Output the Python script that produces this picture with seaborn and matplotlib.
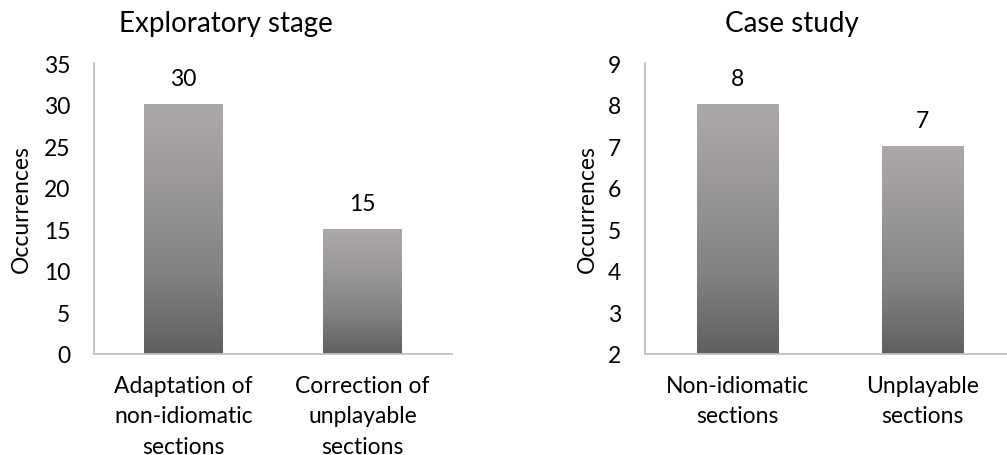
import numpy as np
import pandas as pd
import matplotlib
matplotlib.use("Agg")
import matplotlib.pyplot as plt
from matplotlib.colors import LinearSegmentedColormap
import seaborn as sns

# Chart data
explore_categories = ["Adaptation of\nnon-idiomatic\nsections", "Correction of\nunplayable\nsections"]
explore_counts = [30, 15]
case_categories = ["Non-idiomatic\nsections", "Unplayable\nsections"]
case_counts = [8, 7]

explore_ticks = [0, 5, 10, 15, 20, 25, 30, 35]
case_ticks = [2, 3, 4, 5, 6, 7, 8, 9]

sns.set_theme(style="white")
plt.rcParams["font.family"] = ["Lato", "DejaVu Sans"]

TEXT = "#000000"
SPINE = "#BFBFBF"
FS = 16.5
bar_cmap = LinearSegmentedColormap.from_list(
    "bar_grad", ["#ADA9A8", "#9A9797", "#858282", "#615E5F"])

fig = plt.figure(figsize=(10.07, 4.56), dpi=100)
ax_l = fig.add_axes([0.0933, 0.2215, 0.3555, 0.638])
ax_r = fig.add_axes([0.6405, 0.2215, 0.3674, 0.638])


def gradient_bars(ax):
    lo = ax.get_ylim()[0]
    grad = np.linspace(0, 1, 256).reshape(-1, 1)
    for p in list(ax.patches):
        x0 = p.get_x()
        w = p.get_width()
        top = p.get_y() + p.get_height()
        bottom = max(p.get_y(), lo)
        ax.imshow(grad, cmap=bar_cmap, aspect="auto", origin="upper",
                  extent=(x0, x0 + w, bottom, top), zorder=2,
                  interpolation="bilinear")
        p.set_facecolor("none")
        p.set_edgecolor("none")


def style_panel(ax, cats, counts, ticks, title, title_x, label_x):
    df = pd.DataFrame({"cat": cats, "n": counts})
    sns.barplot(data=df, x="cat", y="n", ax=ax, color="#9A9797",
                width=0.44, saturation=1)
    ax.set_xlim(-0.5, 1.5)
    ax.set_ylim(ticks[0], ticks[-1])
    ax.set_yticks(ticks)
    ax.set_yticklabels([str(t) for t in ticks], fontsize=FS, color=TEXT)
    ax.tick_params(axis="y", length=0, pad=17)
    ax.tick_params(axis="x", length=0, pad=15, labelsize=FS, labelcolor=TEXT)
    for lab in ax.get_xticklabels():
        lab.set_linespacing(1.55)
    ax.set_xlabel("")
    ax.set_ylabel("Occurrences", fontsize=FS, color=TEXT)
    ax.yaxis.set_label_coords(label_x, 0.5)
    for side in ["top", "right"]:
        ax.spines[side].set_visible(False)
    for side in ["left", "bottom"]:
        ax.spines[side].set_color(SPINE)
        ax.spines[side].set_linewidth(1.3)
    ax.bar_label(ax.containers[0], labels=[str(v) for v in counts],
                 padding=11, fontsize=FS, color=TEXT)
    gradient_bars(ax)
    ax.set_xlim(-0.5, 1.5)
    ax.set_ylim(ticks[0], ticks[-1])
    fig.text(title_x, 1 - 24 / 456, title, ha="center", va="center",
             fontsize=20, color=TEXT)


style_panel(ax_l, explore_categories, explore_counts, explore_ticks,
            "Exploratory stage", 226 / 1007, -0.173)
style_panel(ax_r, case_categories, case_counts, case_ticks,
            "Case study", 792 / 1007, -0.127)

fig.savefig("out.png", dpi=100, facecolor="white")
